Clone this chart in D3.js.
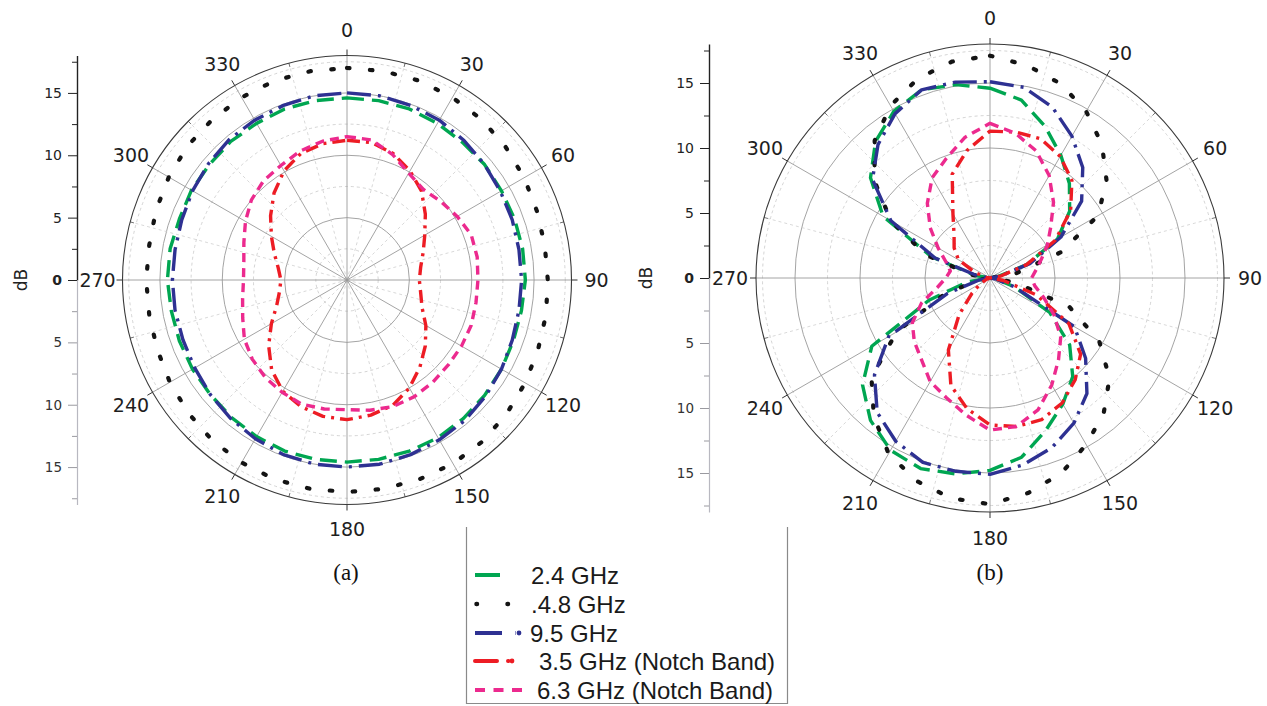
<!DOCTYPE html>
<html><head><meta charset="utf-8">
<script src="https://cdn.jsdelivr.net/npm/d3@7/dist/d3.min.js"></script>
<style>body{margin:0;background:#fff}svg{display:block}</style>
</head><body>
<svg id="chart" width="1267" height="706"></svg>
<script>
// ---------- data ----------
const angles = [0,10,20,30,40,50,60,70,80,90,100,110,120,130,140,150,160,170,
                180,190,200,210,220,230,240,250,260,270,280,290,300,310,320,330,340,350];
const angleTicks = [0,30,60,90,120,150,180,210,240,270,300,330];
const dbMajor = [0,5,10,15];
const dbMinor = [2.5,7.5,12.5,17.5];
const seriesNames = ["2.4 GHz", ".4.8 GHz", "9.5 GHz", "3.5 GHz (Notch Band)", "6.3 GHz (Notch Band)"];
const panelNames = ["(a)", "(b)"];

// panel (a)
const a_2_4 = [14.6,14.6,14.6,14.5,14.4,14.4,14.3,14.3,14.3,14.3,14.2,14.2,14.3,14.4,14.5,14.6,14.6,14.6,
               14.6,14.6,14.6,14.5,14.4,14.3,14.3,14.3,14.3,14.4,14.4,14.3,14.4,14.4,14.5,14.5,14.6,14.6];
const a_4_8 = [17.0,17.0,17.0,16.9,16.8,16.6,16.4,16.2,16.1,16.1,16.2,16.3,16.5,16.7,16.9,17.0,17.0,17.0,
               17.0,17.0,17.0,16.9,16.8,16.6,16.4,16.2,16.1,16.1,16.1,16.3,16.5,16.7,16.8,16.9,17.0,17.0];
const a_9_5 = [15.0,15.0,14.9,14.8,14.6,14.4,14.2,14.1,14.0,14.0,14.0,14.1,14.3,14.5,14.7,14.8,14.9,15.0,
               15.0,15.0,14.9,14.7,14.5,14.3,14.1,14.0,14.0,14.0,14.0,14.1,14.3,14.5,14.7,14.8,14.9,15.0];
const a_3_5 = [11.2,11.2,10.8,10.1,9.3,8.2,7.2,6.5,6.0,5.8,6.0,6.4,7.3,8.2,9.1,10.0,10.7,11.0,
               11.2,11.1,10.8,10.3,9.4,8.2,7.0,6.0,5.5,5.3,5.6,6.2,7.0,8.0,9.1,10.1,10.8,11.1];
const a_6_3 = [11.5,11.4,10.7,9.9,9.5,9.8,10.2,10.6,10.6,10.5,10.5,10.6,10.6,10.6,10.7,10.8,10.8,10.6,
               10.4,10.5,10.6,10.4,10.2,9.9,9.5,8.9,8.5,8.3,8.4,8.8,9.4,10.0,10.4,10.6,11.0,11.3];

// panel (b)
const b_2_4 = [14.6,13.9,12.4,10.9,9.5,8.0,6.0,3.0,0.6,0.0,0.5,2.0,5.3,8.0,9.9,11.2,12.5,14.0,
               14.8,15.3,15.6,15.3,14.3,12.8,10.5,5.0,1.8,0.0,1.2,4.8,9.5,12.0,13.7,14.8,15.4,15.1];
const b_4_8 = [17.1,16.6,15.9,14.8,13.4,11.7,9.6,5.8,2.0,0.0,2.0,6.5,9.7,12.0,13.6,14.8,16.0,16.8,
               17.4,17.2,16.6,15.6,13.9,11.9,8.3,3.8,1.0,0.0,1.5,5.3,8.8,11.6,13.8,15.3,16.3,16.9];
const b_9_5 = [15.1,14.9,14.0,12.6,11.1,9.2,6.3,3.3,0.8,0.0,0.5,2.0,7.5,9.6,11.6,12.9,13.9,14.6,
               15.1,15.1,15.1,14.5,13.5,11.6,9.0,3.5,0.8,0.0,1.0,4.5,8.8,11.8,13.4,14.6,15.4,15.3];
const b_3_5 = [11.3,11.4,11.4,10.8,9.8,8.1,5.8,3.0,0.8,0.0,1.0,3.8,7.0,9.1,10.2,11.1,11.6,11.6,
               11.3,10.2,8.8,6.4,3.7,1.8,0.8,0.3,0.0,0.0,0.3,1.2,2.8,3.6,4.3,5.7,8.5,10.0];
const b_6_3 = [11.9,11.3,10.4,9.1,7.6,6.1,5.1,4.2,3.6,3.2,3.5,4.4,5.7,7.1,8.2,9.5,10.8,11.6,
               11.7,10.7,9.8,9.2,8.2,7.6,6.9,5.6,4.1,3.4,3.1,3.6,4.6,6.0,7.5,8.9,9.8,11.0];

// ---------- styles ----------
const colors = ["#00a651", "#141414", "#2e3192", "#ed1c24", "#ec2a8e"];
const dashes = ["17,8", "2.5,20.5", "24,7,3,7", "13,6,3,6", "9,6"];
const widths = [3.4, 4.2, 3.4, 3.4, 3.4];
const caps = ["butt", "round", "butt", "butt", "butt"];

const panels = [
  {cx: 347, cy: 280, R: 224.5, axisX: 77, dbX: 21, labelOff: 25, series: [a_2_4, a_4_8, a_9_5, a_3_5, a_6_3], name: panelNames[0], capX: 346},
  {cx: 990, cy: 278, R: 234, axisX: 709, dbX: 646, labelOff: 26, series: [b_2_4, b_4_8, b_9_5, b_3_5, b_6_3], name: panelNames[1], capX: 990}
];

const svg = d3.select("#chart");
const FONT = "DejaVu Sans, Verdana, sans-serif";
const rad = d => d * Math.PI / 180;

panels.forEach(p => {
  const r = d3.scaleLinear().domain([0, 18]).range([0, p.R]);
  const g = svg.append("g").attr("transform", `translate(${p.cx},${p.cy})`);

  g.selectAll("circle.minor").data(dbMinor).enter().append("circle")
    .attr("r", d => r(d)).attr("fill", "none")
    .attr("stroke", "#c9c9c9").attr("stroke-width", 0.8).attr("stroke-dasharray", "3,3");
  g.selectAll("circle.major").data([5, 10, 15]).enter().append("circle")
    .attr("r", d => r(d)).attr("fill", "none")
    .attr("stroke", "#9a9a9a").attr("stroke-width", 0.9);
  g.selectAll("line.mspoke").data(angleTicks.map(a => a + 15)).enter().append("line")
    .attr("x1", 0).attr("y1", 0)
    .attr("x2", d => r(18) * Math.sin(rad(d))).attr("y2", d => -r(18) * Math.cos(rad(d)))
    .attr("stroke", "#cfcfcf").attr("stroke-width", 0.8).attr("stroke-dasharray", "3,3");
  g.selectAll("line.spoke").data(angleTicks).enter().append("line")
    .attr("x1", 0).attr("y1", 0)
    .attr("x2", d => r(18) * Math.sin(rad(d))).attr("y2", d => -r(18) * Math.cos(rad(d)))
    .attr("stroke", "#9a9a9a").attr("stroke-width", 0.9);
  g.selectAll("line.otick").data(angleTicks).enter().append("line")
    .attr("x1", d => r(18) * Math.sin(rad(d))).attr("y1", d => -r(18) * Math.cos(rad(d)))
    .attr("x2", d => (r(18) + 6) * Math.sin(rad(d))).attr("y2", d => -(r(18) + 6) * Math.cos(rad(d)))
    .attr("stroke", "#333").attr("stroke-width", 1);
  g.selectAll("line.itick").data(angleTicks.map(a => a + 15)).enter().append("line")
    .attr("x1", d => r(18) * Math.sin(rad(d))).attr("y1", d => -r(18) * Math.cos(rad(d)))
    .attr("x2", d => (r(18) - 4) * Math.sin(rad(d))).attr("y2", d => -(r(18) - 4) * Math.cos(rad(d)))
    .attr("stroke", "#555").attr("stroke-width", 0.8);
  g.append("circle").attr("r", r(18)).attr("fill", "none").attr("stroke", "#3a3a3a").attr("stroke-width", 1.1);

  const line = d3.lineRadial()
    .angle(d => rad(d.a)).radius(d => r(d.v)).curve(d3.curveLinearClosed);
  p.series.forEach((vals, i) => {
    g.append("path")
      .datum(angles.map((a, k) => ({a, v: vals[k]})))
      .attr("d", line).attr("fill", "none")
      .attr("stroke", colors[i]).attr("stroke-width", widths[i])
      .attr("stroke-dasharray", dashes[i]).attr("stroke-linecap", caps[i])
      .attr("stroke-linejoin", "round");
  });

  g.selectAll("text.ang").data(angleTicks).enter().append("text")
    .attr("x", d => (r(18) + p.labelOff) * Math.sin(rad(d)))
    .attr("y", d => -(r(18) + p.labelOff) * Math.cos(rad(d)))
    .attr("text-anchor", "middle").attr("dy", "0.36em")
    .attr("font-family", FONT).attr("font-size", 19).attr("fill", "#1e1e1e")
    .text(d => d);

  const yUp = d3.scaleLinear().domain([0, 18]).range([p.cy, p.cy - p.R]);
  const yDn = d3.scaleLinear().domain([0, 18]).range([p.cy, p.cy + p.R]);
  const gu = svg.append("g").attr("transform", `translate(${p.axisX},0)`);
  gu.call(d3.axisLeft(yUp).tickValues(dbMajor).tickSize(9).tickSizeOuter(0).tickPadding(6)
    .tickFormat(d => d));
  gu.select(".domain").attr("stroke", "#222").attr("stroke-width", 1.4);
  gu.selectAll(".tick line").attr("stroke", "#222");
  gu.selectAll(".tick text").attr("font-family", FONT).attr("font-size", 14).attr("fill", "#222")
    .attr("font-weight", d => d === 0 ? "bold" : "normal");
  const gum = svg.append("g").attr("transform", `translate(${p.axisX},0)`);
  gum.call(d3.axisLeft(yUp).tickValues(dbMinor).tickSize(5).tickSizeOuter(0).tickFormat(""));
  gum.select(".domain").remove();
  gum.selectAll(".tick line").attr("stroke", "#222");

  const gd = svg.append("g").attr("transform", `translate(${p.axisX},0)`);
  gd.call(d3.axisLeft(yDn).tickValues(dbMajor.slice(1)).tickSize(9).tickSizeOuter(0).tickPadding(6)
    .tickFormat(d => d));
  gd.select(".domain").attr("stroke", "#b8b8c0").attr("stroke-width", 1.2);
  gd.selectAll(".tick line").attr("stroke", "#9a9aa0");
  gd.selectAll(".tick text").attr("font-family", FONT).attr("font-size", 13.5).attr("fill", "#333");
  const gdm = svg.append("g").attr("transform", `translate(${p.axisX},0)`);
  gdm.call(d3.axisLeft(yDn).tickValues(dbMinor).tickSize(5).tickSizeOuter(0).tickFormat(""));
  gdm.select(".domain").remove();
  gdm.selectAll(".tick line").attr("stroke", "#9a9aa0");

  svg.append("text").attr("transform", `translate(${p.dbX},${p.cy}) rotate(-90)`)
    .attr("text-anchor", "middle").attr("dy", "0.36em")
    .attr("font-family", FONT).attr("font-size", 17).attr("fill", "#222").text("dB");

  svg.append("text").attr("x", p.capX).attr("y", 580).attr("text-anchor", "middle")
    .attr("font-family", "Liberation Serif, Times New Roman, serif").attr("font-size", 23)
    .attr("fill", "#111").text(p.name);
});

// ---------- legend ----------
const lg = svg.append("g");
lg.append("path").attr("d", "M466.5,527 V703.5 H787.5 V527").attr("fill", "none")
  .attr("stroke", "#8a8a8a").attr("stroke-width", 1.2);
const legY = [575, 604, 633, 661, 690];
const legTextX = [531, 531, 530, 539, 537];
const legDash = ["25,100", "0.5,30.5", "27,13,0.5,100", "22,11,0.5,100", "10,8.5"];
const legCap = ["butt", "round", "butt", "round", "butt"];
seriesNames.forEach((name, i) => {
  lg.append("line").attr("x1", i === 1 ? 476.5 : 475).attr("x2", 524)
    .attr("y1", legY[i]).attr("y2", legY[i])
    .attr("stroke", colors[i]).attr("stroke-width", i === 1 ? 4.5 : 4)
    .attr("stroke-dasharray", legDash[i]).attr("stroke-linecap", legCap[i]);
  if (i === 2 || i === 3) {
    lg.append("circle").attr("cx", i === 2 ? 519 : 512).attr("cy", legY[i]).attr("r", 2.4).attr("fill", colors[i]);
  }
  lg.append("text")
    .attr("x", legTextX[i]).attr("y", legY[i])
    .attr("dy", "0.36em")
    .attr("font-family", "Liberation Sans, Arial, sans-serif").attr("font-size", 24)
    .attr("fill", "#1a1a1a").text(name);
});
</script>
</body></html>
